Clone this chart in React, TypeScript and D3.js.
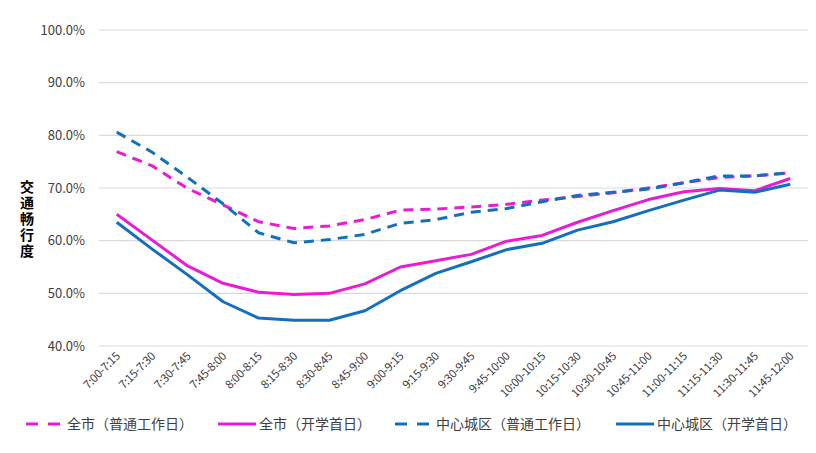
import React, { useEffect, useRef } from "react";
import * as d3 from "d3";

// categories (15-minute slots)
const slots = [
  "7:00-7:15", "7:15-7:30", "7:30-7:45", "7:45-8:00", "8:00-8:15",
  "8:15-8:30", "8:30-8:45", "8:45-9:00", "9:00-9:15", "9:15-9:30",
  "9:30-9:45", "9:45-10:00", "10:00-10:15", "10:15-10:30", "10:30-10:45",
  "10:45-11:00", "11:00-11:15", "11:15-11:30", "11:30-11:45", "11:45-12:00",
];

// values in %
const cityNormal = [76.9, 74.2, 69.9, 66.8, 63.6, 62.3, 62.8, 64.0, 65.8, 66.0,
  66.4, 66.9, 67.7, 68.4, 69.1, 70.0, 71.0, 72.0, 72.3, 72.9];
const cityFirstDay = [65.0, 60.1, 55.2, 51.9, 50.2, 49.8, 50.0, 51.8, 55.0, 56.2,
  57.4, 59.9, 61.0, 63.5, 65.7, 67.8, 69.3, 69.9, 69.5, 71.8];
const centerNormal = [80.6, 76.8, 72.0, 67.0, 61.5, 59.6, 60.2, 61.2, 63.3, 64.0,
  65.4, 66.1, 67.4, 68.6, 69.2, 69.8, 71.0, 72.3, 72.3, 72.9];
const centerFirstDay = [63.5, 58.4, 53.5, 48.4, 45.3, 44.9, 44.9, 46.7, 50.5, 53.8,
  56.0, 58.3, 59.5, 62.0, 63.6, 65.7, 67.7, 69.6, 69.2, 70.7];

const yTicks = [40, 50, 60, 70, 80, 90, 100];
const yTitle = "交通畅行度";

const magenta = "#E91CD3";
const blue = "#1470BD";

const seriesList = [
  { name: "全市（普通工作日）", values: cityNormal, color: magenta, dashed: true },
  { name: "全市（开学首日）", values: cityFirstDay, color: magenta, dashed: false },
  { name: "中心城区（普通工作日）", values: centerNormal, color: blue, dashed: true },
  { name: "中心城区（开学首日）", values: centerFirstDay, color: blue, dashed: false },
];

const legendX = [26, 218, 395, 616];

const App: React.FC = () => {
  const ref = useRef<SVGSVGElement>(null);
  const width = 816;
  const height = 453;
  const left = 99;
  const right = 808;
  const top = 30;
  const bottom = 346;
  const font = "'Noto Sans CJK SC', 'Noto Sans', sans-serif";

  useEffect(() => {
    const svg = d3.select(ref.current);
    svg.selectAll("*").remove();

    const x = d3.scalePoint<string>().domain(slots).range([left, right]).padding(0.5);
    const y = d3.scaleLinear().domain([40, 100]).range([bottom, top]);

    // grid
    svg
      .append("g")
      .selectAll("line")
      .data(yTicks)
      .join("line")
      .attr("x1", left)
      .attr("x2", right)
      .attr("y1", (d) => y(d))
      .attr("y2", (d) => y(d))
      .attr("stroke", "#d9d9d9")
      .attr("stroke-width", 1.2);

    // y tick labels
    svg
      .append("g")
      .selectAll("text")
      .data(yTicks)
      .join("text")
      .attr("x", 85)
      .attr("y", (d) => y(d))
      .attr("dy", "0.35em")
      .attr("text-anchor", "end")
      .attr("font-family", font)
      .attr("font-size", 13)
      .attr("fill", "#404040")
      .text((d) => d.toFixed(1) + "%");

    // y title, vertical upright characters
    svg
      .append("text")
      .attr("x", 27)
      .attr("y", 180)
      .attr("font-family", font)
      .attr("font-size", 14)
      .attr("font-weight", "bold")
      .attr("letter-spacing", 2)
      .attr("fill", "#000")
      .style("writing-mode", "vertical-rl")
      .style("text-orientation", "upright")
      .text(yTitle);

    // x tick labels
    svg
      .append("g")
      .selectAll("text")
      .data(slots)
      .join("text")
      .attr("transform", (d) => `translate(${(x(d) as number) + 4},${bottom + 11}) rotate(-45)`)
      .attr("text-anchor", "end")
      .attr("font-family", font)
      .attr("font-size", 11.5)
      .attr("letter-spacing", -0.3)
      .attr("fill", "#404040")
      .text((d) => d);

    const line = d3
      .line<number>()
      .x((d, i) => x(slots[i]) as number)
      .y((d) => y(d));

    seriesList.forEach((s) => {
      svg
        .append("path")
        .datum(s.values)
        .attr("fill", "none")
        .attr("stroke", s.color)
        .attr("stroke-width", 3)
        .attr("stroke-linejoin", "round")
        .attr("stroke-dasharray", s.dashed ? "10,7" : null)
        .attr("d", line);
    });

    // legend
    const legend = svg.append("g").attr("transform", "translate(0,424)");
    seriesList.forEach((s, i) => {
      const g = legend.append("g").attr("transform", `translate(${legendX[i]},0)`);
      g.append("line")
        .attr("x1", 0)
        .attr("x2", 38)
        .attr("y1", 0)
        .attr("y2", 0)
        .attr("stroke", s.color)
        .attr("stroke-width", 3)
        .attr("stroke-dasharray", s.dashed ? "12,10" : null);
      g.append("text")
        .attr("x", 41)
        .attr("y", 0)
        .attr("dy", "0.35em")
        .attr("font-family", font)
        .attr("font-size", 14)
        .attr("fill", "#404040")
        .text(s.name);
    });
  }, []);

  return (
    <div style={{ position: "absolute", left: 0, top: 0 }}>
      <svg ref={ref} width={width} height={height} style={{ display: "block", background: "#fff" }} />
    </div>
  );
};

export default App;
